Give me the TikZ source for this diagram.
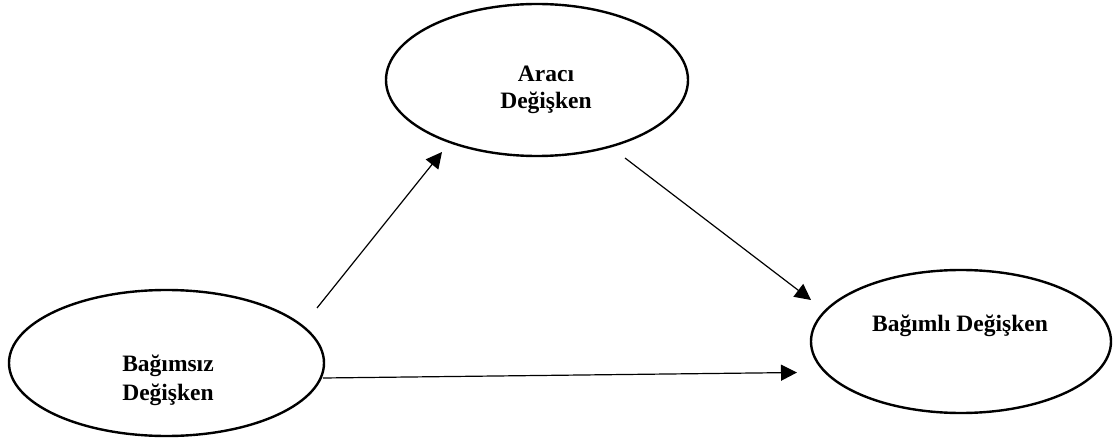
\documentclass[tikz,border=0pt]{standalone}
\usepackage{fontspec}
\setmainfont{Liberation Serif}
\usetikzlibrary{shapes.geometric,arrows.meta}
\begin{document}
\begin{tikzpicture}[x=1pt,y=-1pt,
  oval/.style={ellipse,draw,line width=2.4pt,inner sep=0pt},
  lbl/.style={anchor=base,inner sep=0pt,font=\bfseries\fontsize{23.5}{28}\selectfont},
  arr/.style={line width=1.2pt,-{Triangle[length=16pt,width=16pt]}}]
\useasboundingbox[fill=white] (0,0) rectangle (1120,441);
% ellipses
\node[oval,minimum width=302pt,minimum height=152pt] (ara) at (537,80) {};
\node[oval,minimum width=315pt,minimum height=146pt] (bag) at (166.5,363) {};
\node[oval,minimum width=300pt,minimum height=143pt] (dep) at (961,341.5) {};
% texts
\node[lbl] (araA) at (546,82) {Aracı};
\node[lbl] (araB) at (546,109) {Değişken};
\node[lbl] (bagA) at (168,371) {Bağımsız};
\node[lbl] (bagB) at (168,400) {Değişken};
\node[lbl] (depA) at (960,331) {Bağımlı Değişken};
% connector ends
\coordinate (a1s) at (317,308);
\coordinate (a1e) at (442,152);
\coordinate (a2s) at (625,158);
\coordinate (a2e) at (811,300);
\coordinate (a3s) at (323,378);
\coordinate (a3e) at (797,372.5);
\draw[arr] (a1s) -- (a1e);
\draw[arr] (a2s) -- (a2e);
\draw[arr] (a3s) -- (a3e);
\end{tikzpicture}
\end{document}
